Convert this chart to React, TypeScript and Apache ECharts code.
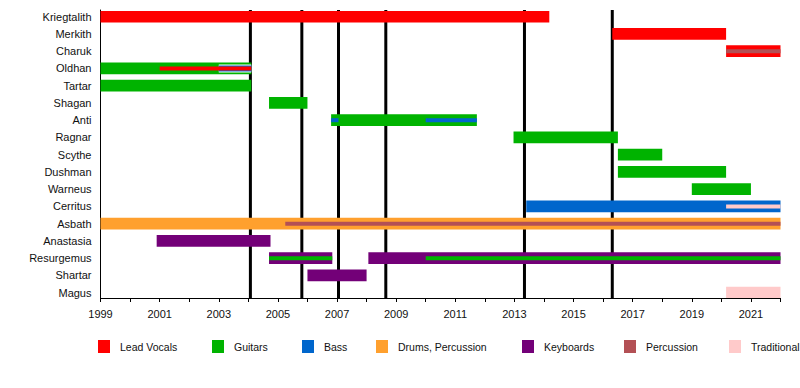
import React, { useEffect, useRef } from "react";
import * as echarts from "echarts";

const members = [
  "Kriegtalith", "Merkith", "Charuk", "Oldhan", "Tartar", "Shagan", "Anti", "Ragnar",
  "Scythe", "Dushman", "Warneus", "Cerritus", "Asbath", "Anastasia", "Resurgemus", "Shartar", "Magus",
];

const roles = ["Lead Vocals", "Guitars", "Bass", "Drums, Percussion", "Keyboards", "Percussion", "Traditional"];
const roleColors = ["#ff0000", "#00b300", "#0066cc", "#ffa02e", "#730078", "#b35055", "#ffcaca"];

// [member, role, start, end]
const bars: [string, string, number, number][] = [
  ["Kriegtalith", "Lead Vocals", 1999, 2014.18],
  ["Merkith", "Lead Vocals", 2016.31, 2020.16],
  ["Charuk", "Lead Vocals", 2020.16, 2022],
  ["Oldhan", "Guitars", 1999, 2004.1],
  ["Tartar", "Guitars", 1999, 2004.1],
  ["Shagan", "Guitars", 2004.7, 2006.0],
  ["Anti", "Guitars", 2006.8, 2011.73],
  ["Ragnar", "Guitars", 2012.97, 2016.5],
  ["Scythe", "Guitars", 2016.5, 2018.0],
  ["Dushman", "Guitars", 2016.5, 2020.16],
  ["Warneus", "Guitars", 2019.0, 2021.0],
  ["Cerritus", "Bass", 2013.4, 2022],
  ["Asbath", "Drums, Percussion", 1999, 2022],
  ["Anastasia", "Keyboards", 2000.9, 2004.75],
  ["Resurgemus", "Keyboards", 2004.7, 2006.84],
  ["Resurgemus", "Keyboards", 2008.06, 2022],
  ["Shartar", "Keyboards", 2006.0, 2008.0],
  ["Magus", "Traditional", 2020.16, 2022],
];

// secondary roles drawn as stripes inside the bars: [member, role, start, end]
const stripes: [string, string, number, number][] = [
  ["Charuk", "Percussion", 2020.16, 2022],
  ["Oldhan", "Lead Vocals", 2001.0, 2004.1],
  ["Anti", "Bass", 2006.8, 2007.05],
  ["Anti", "Bass", 2010.0, 2011.73],
  ["Cerritus", "Traditional", 2020.16, 2022],
  ["Asbath", "Percussion", 2005.25, 2022],
  ["Resurgemus", "Guitars", 2004.7, 2006.84],
  ["Resurgemus", "Guitars", 2010.0, 2022],
];

// Oldhan's overlapping stripe period (outline stripes around the vocals stripe)
const oldhanOutline: [string, number, number][] = [["Oldhan", 2003.0, 2004.1]];

const eventYears = [2004.07, 2005.81, 2007.05, 2008.65, 2013.34, 2016.31];
const yearLabels = [1999, 2001, 2003, 2005, 2007, 2009, 2011, 2013, 2015, 2017, 2019, 2021];

const FONT = '"Liberation Sans", Arial, sans-serif';

function rectSeries(data: any[], height: number, colorOf: (d: number) => string, z: number) {
  return {
    type: "custom",
    z,
    silent: true,
    clip: true,
    data,
    encode: { x: [0, 1], y: 2 },
    renderItem: (params: any, api: any) => {
      const s = api.coord([api.value(0), api.value(2)]);
      const e = api.coord([api.value(1), api.value(2)]);
      return {
        type: "rect",
        shape: { x: s[0], y: s[1] - height / 2, width: e[0] - s[0], height },
        style: { fill: colorOf(api.value(3)) },
      };
    },
  };
}

export default function App() {
  const ref = useRef<HTMLDivElement>(null);
  useEffect(() => {
    if (!ref.current) return;
    const chart = echarts.init(ref.current, undefined, { renderer: "svg" });
    const barData = bars.map((b) => [b[2], b[3], members.indexOf(b[0]), roles.indexOf(b[1])]);
    const stripeData = stripes.map((b) => [b[2], b[3], members.indexOf(b[0]), roles.indexOf(b[1])]);
    const outlineData = oldhanOutline.map((b) => [b[1], b[2], members.indexOf(b[0]), 0]);
    const legendLeft = [98, 212, 302, 376, 522, 624, 729];
    chart.setOption({
      animation: false,
      backgroundColor: "#ffffff",
      grid: { left: 100.5, top: 10, width: 680, height: 288, containLabel: false },
      xAxis: {
        type: "value",
        min: 1999,
        max: 2022,
        interval: 1,
        axisLine: { show: true, onZero: false, lineStyle: { color: "#000", width: 1 } },
        axisTick: { show: true, length: 4, lineStyle: { color: "#000", width: 1 } },
        splitLine: { show: false },
        axisLabel: {
          customValues: yearLabels,
          formatter: (v: number) => String(v),
          margin: 10,
          color: "#111",
          fontSize: 11,
          fontFamily: FONT,
        },
      },
      yAxis: {
        type: "value",
        inverse: true,
        min: -0.39,
        max: 16.31,
        axisLine: { show: true, onZero: false, lineStyle: { color: "#000", width: 1 } },
        axisTick: { show: false },
        splitLine: { show: false },
        axisLabel: {
          customValues: members.map((_, i) => i),
          formatter: (v: number) => members[Math.round(v)] ?? "",
          margin: 9,
          color: "#111",
          fontSize: 11,
          fontFamily: FONT,
        },
      },
      legend: roles.map((r, i) => ({
        data: [r],
        left: legendLeft[i],
        top: 340,
        padding: 0,
        itemWidth: 12,
        itemHeight: 13,
        icon: "rect",
        selectedMode: false,
        textStyle: { fontSize: 10.5, fontFamily: FONT, color: "#111", padding: [0, 0, 0, 5] },
      })),
      series: [
        ...roles.map((r, i) => ({ name: r, type: "bar", data: [], itemStyle: { color: roleColors[i] } })),
        {
          type: "custom",
          z: 1,
          silent: true,
          data: eventYears.map((y) => [y]),
          encode: { x: 0 },
          renderItem: (params: any, api: any) => {
            const cs = params.coordSys;
            const p = api.coord([api.value(0), 0]);
            return {
              type: "line",
              shape: { x1: p[0], y1: cs.y, x2: p[0], y2: cs.y + cs.height },
              style: { stroke: "#000", lineWidth: 3 },
            };
          },
        },
        rectSeries(barData, 11.7, (d) => roleColors[d], 2),
        rectSeries(outlineData, 8, () => "#ffffff", 3),
        rectSeries(outlineData, 6, () => roleColors[2], 4),
        rectSeries(stripeData, 4, (d) => roleColors[d], 5),
      ],
    });
    return () => chart.dispose();
  }, []);
  return (
    <div
      ref={ref}
      style={{ position: "absolute", left: 0, top: 0, width: 800, height: 388, background: "#fff" }}
    />
  );
}
